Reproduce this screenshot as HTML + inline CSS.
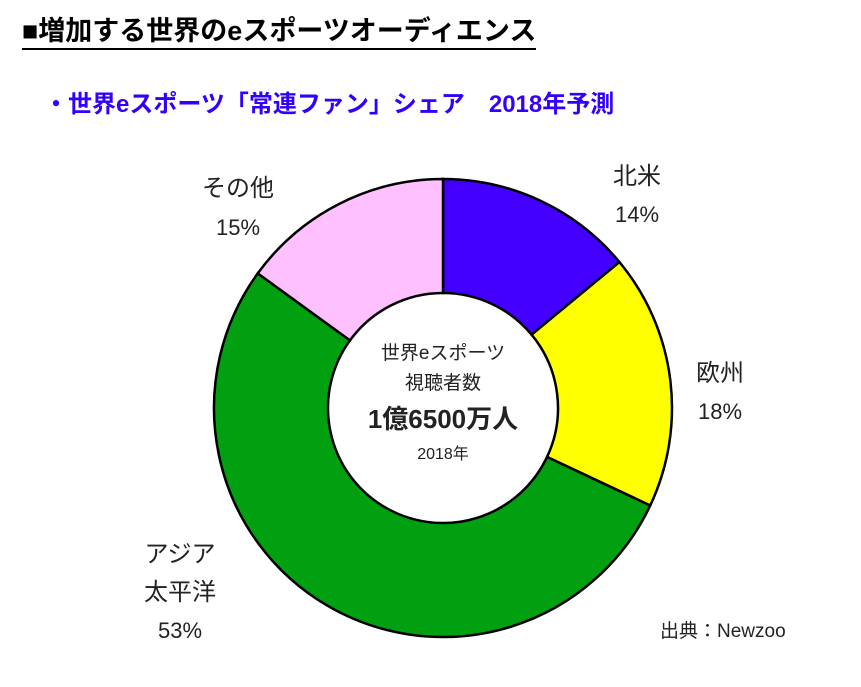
<!DOCTYPE html>
<html><head><meta charset="utf-8">
<style>
body{margin:0;background:#fff;width:861px;height:687px;overflow:hidden;position:relative;font-family:"Liberation Sans","Noto Sans CJK JP",sans-serif;}
.t{position:absolute;white-space:nowrap;}
</style></head>
<body>
<div class="t" style="left:22px;top:14px;font-size:27px;font-weight:bold;color:#000;border-bottom:2px solid #000;line-height:34px;">■増加する世界のeスポーツオーディエンス</div>
<div class="t" style="left:44px;top:90px;font-size:24px;font-weight:bold;color:#3300ff;line-height:30px;">・世界eスポーツ「常連ファン」シェア　2018年予測</div>
<svg id="chart" width="861" height="687" style="position:absolute;left:0;top:0">
<g id="slices"></g>
<g id="labels" font-family="Liberation Sans, Noto Sans CJK JP, sans-serif" fill="#222"></g>
</svg>
<script>
const categories=["北米","欧州","アジア太平洋","その他"];
const values=[14,18,53,15];
const colors=["#4400ff","#ffff00","#00a010","#ffc0ff"];
const cx=443,cy=408,R=229,r=115;
const g=document.getElementById('slices');
const total=values.reduce((a,b)=>a+b,0);
let a0=0;
function pt(rad,a){return [cx+rad*Math.sin(a),cy-rad*Math.cos(a)];}
values.forEach((v,i)=>{
  const a1=a0+v/total*2*Math.PI;
  const large=(a1-a0)>Math.PI?1:0;
  const p1=pt(R,a0),p2=pt(R,a1),p3=pt(r,a1),p4=pt(r,a0);
  const p=document.createElementNS('http://www.w3.org/2000/svg','path');
  p.setAttribute('d',`M${p1}A${R},${R} 0 ${large} 1 ${p2}L${p3}A${r},${r} 0 ${large} 0 ${p4}Z`);
  p.setAttribute('fill',colors[i]);p.setAttribute('stroke','#000');p.setAttribute('stroke-width','2.5');
  
  
  g.appendChild(p);
  a0=a1;
});
const L=document.getElementById('labels');
function txt(x,y,s,size,w,anchor,name){
  const t=document.createElementNS('http://www.w3.org/2000/svg','text');
  t.setAttribute('x',x);t.setAttribute('y',y);t.setAttribute('font-size',size);
  if(w)t.setAttribute('font-weight',w);
  t.setAttribute('text-anchor',anchor||'middle');t.textContent=s;
  
  
  L.appendChild(t);
}
txt(637,184,categories[0],24,null,'middle','label-north-america');
txt(637,222,values[0]+'%',22,null,'middle','pct-north-america');
txt(720,381,categories[1],24,null,'middle','label-europe');
txt(720,419,values[1]+'%',22,null,'middle','pct-europe');
txt(180,562,'アジア',24,null,'middle','label-asia-1');
txt(180,600,'太平洋',24,null,'middle','label-asia-2');
txt(180,638,values[2]+'%',22,null,'middle','pct-asia');
txt(238,196,categories[3],24,null,'middle','label-other');
txt(238,235,values[3]+'%',22,null,'middle','pct-other');
txt(443,359,'世界eスポーツ',19,null,'middle','center-line1');
txt(443,389,'視聴者数',19,null,'middle','center-line2');
txt(443,428,'1億6500万人',26,'bold','middle','center-total');
txt(443,459,'2018年',16,null,'middle','center-year');
txt(660,637,'出典：Newzoo',19,null,'start','source-note');
</script>
</body></html>
